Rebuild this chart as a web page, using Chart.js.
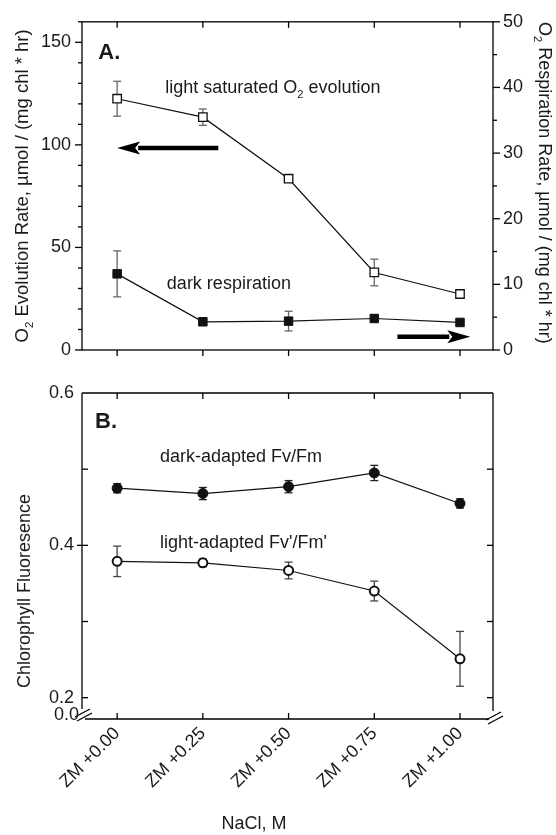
<!DOCTYPE html>
<html>
<head>
<meta charset="utf-8">
<script src="https://cdn.jsdelivr.net/npm/chart.js@4.4.1/dist/chart.umd.min.js"></script>
<style>
  body { margin: 0; background: #fff; }
  #wrap { position: relative; width: 556px; height: 835px; }
  canvas { position: absolute; left: 0; }
  #chartA { top: 0; }
  #chartB { top: 372px; }
</style>
</head>
<body>
<div id="wrap">
  <canvas id="chartA" width="556" height="372"></canvas>
  <canvas id="chartB" width="556" height="463"></canvas>
</div>
<script>
// --- data ---
const categories = ["ZM +0.00", "ZM +0.25", "ZM +0.50", "ZM +0.75", "ZM +1.00"];

// panel A: O2 evolution (left axis) and dark respiration (right axis)
const o2Evolution = [122.5, 113.5, 83.5, 37.8, 27.3];
const o2EvolutionErr = [8.5, 4.0, 1.0, 6.5, 1.2];
const darkResp = [11.6, 4.3, 4.4, 4.8, 4.2];
const darkRespErr = [3.5, 0, 1.5, 0, 0];
const evoTicks = [0, 50, 100, 150];
const respTicks = [0, 10, 20, 30, 40, 50];

// panel B: chlorophyll fluorescence
const fvFmDark = [0.475, 0.468, 0.477, 0.495, 0.455];
const fvFmDarkErr = [0.006, 0.008, 0.008, 0.010, 0.006];
const fvFmLight = [0.379, 0.377, 0.367, 0.340, 0.251];
const fvFmLightErr = [0.020, 0.005, 0.011, 0.013, 0.036];
const fluorTicks = [0.2, 0.4, 0.6];

const FONT = '"Liberation Sans", Arial, sans-serif';
const INK = "#1a1a1a";

const toPoints = vals => vals.map((v, i) => ({ x: i, y: v }));

// draw text with optional subscript parts
function drawRich(ctx, parts, x, y, size, align, weight) {
  const w8 = weight || "normal";
  const subSize = size * 0.62;
  let total = 0;
  parts.forEach(p => {
    ctx.font = `${w8} ${p.sub ? subSize : size}px ${FONT}`;
    total += ctx.measureText(p.t).width;
  });
  let cx = align === "center" ? x - total / 2 : align === "right" ? x - total : x;
  ctx.textAlign = "left";
  ctx.textBaseline = "middle";
  parts.forEach(p => {
    ctx.font = `${w8} ${p.sub ? subSize : size}px ${FONT}`;
    ctx.fillText(p.t, cx, p.sub ? y + size * 0.38 : y);
    cx += ctx.measureText(p.t).width;
  });
}

function line(ctx, x1, y1, x2, y2) {
  ctx.beginPath();
  ctx.moveTo(x1, y1);
  ctx.lineTo(x2, y2);
  ctx.stroke();
}

function arrow(ctx, x1, y1, x2, y2) {
  const dir = Math.sign(x2 - x1);
  const headLen = 23, headHalf = 6.5;
  ctx.lineWidth = 4.5;
  line(ctx, x1, y1, x2 - dir * (headLen - 2), y2);
  ctx.beginPath();
  ctx.moveTo(x2, y2);
  ctx.lineTo(x2 - dir * headLen, y2 - headHalf);
  ctx.lineTo(x2 - dir * (headLen - 5), y2);
  ctx.lineTo(x2 - dir * headLen, y2 + headHalf);
  ctx.closePath();
  ctx.fill();
}

// error bars behind the markers
const errorBars = {
  id: "errorBars",
  beforeDatasetsDraw(chart) {
    const ctx = chart.ctx;
    chart.data.datasets.forEach(ds => {
      if (!ds.errors) return;
      const xs = chart.scales.x;
      const ys = chart.scales[ds.yAxisID || "y"];
      ctx.save();
      ctx.strokeStyle = ds.errorColor;
      ctx.lineWidth = 1.3;
      ds.data.forEach((p, i) => {
        const e = ds.errors[i];
        if (!e) return;
        const x = xs.getPixelForValue(p.x);
        const yTop = ys.getPixelForValue(p.y + e);
        const yBot = ys.getPixelForValue(p.y - e);
        line(ctx, x, yTop, x, yBot);
        line(ctx, x - 4, yTop, x + 4, yTop);
        line(ctx, x - 4, yBot, x + 4, yBot);
      });
      ctx.restore();
    });
  }
};

const xScale = {
  type: "linear",
  min: -0.41,
  max: 4.385,
  afterBuildTicks: s => { s.ticks = categories.map((c, i) => ({ value: i })); }
};

// ---------------- Panel A ----------------
const panelA = {
  id: "panelA",
  afterDraw(chart) {
    const ctx = chart.ctx;
    const a = chart.chartArea;
    const xs = chart.scales.x, yl = chart.scales.y, yr = chart.scales.y2;
    ctx.save();
    ctx.strokeStyle = "#000";
    ctx.fillStyle = "#000";
    ctx.lineWidth = 1.3;
    ctx.strokeRect(a.left, a.top, a.right - a.left, a.bottom - a.top);

    // category ticks: top inward, bottom outward
    categories.forEach((c, i) => {
      const x = xs.getPixelForValue(i);
      line(ctx, x, a.top, x, a.top + 6);
      line(ctx, x, a.bottom, x, a.bottom + 6);
    });
    // left axis ticks (outward), minor every 10
    for (let v = 0; v <= 160; v += 10) {
      const y = yl.getPixelForValue(v);
      line(ctx, a.left, y, a.left - (v % 50 === 0 ? 7 : 4), y);
    }
    // right axis ticks (outward), minor every 5
    for (let v = 0; v <= 50; v += 5) {
      const y = yr.getPixelForValue(v);
      line(ctx, a.right, y, a.right + (v % 10 === 0 ? 7 : 4), y);
    }

    // arrows pointing to the axis each series uses
    arrow(ctx, xs.getPixelForValue(1.18), yl.getPixelForValue(98.5),
               xs.getPixelForValue(0), yl.getPixelForValue(98.5));
    arrow(ctx, xs.getPixelForValue(3.27), yr.getPixelForValue(2.0),
               xs.getPixelForValue(4.12), yr.getPixelForValue(2.0));

    // labels
    ctx.fillStyle = INK;
    drawRich(ctx, [{ t: "A." }], xs.getPixelForValue(-0.22), yl.getPixelForValue(145), 22, "left", "bold");
    drawRich(ctx, [{ t: "light saturated O" }, { t: "2", sub: true }, { t: " evolution" }],
      xs.getPixelForValue(0.56), yl.getPixelForValue(127.8), 18, "left");
    drawRich(ctx, [{ t: "dark respiration" }],
      xs.getPixelForValue(0.58), yl.getPixelForValue(32.3), 18, "left");

    // axis titles
    ctx.save();
    ctx.translate(23, (a.top + a.bottom) / 2);
    ctx.rotate(-Math.PI / 2);
    drawRich(ctx, [{ t: "O" }, { t: "2", sub: true }, { t: " Evolution Rate, \u00b5mol / (mg chl * hr)" }], 0, 0, 18.5, "center");
    ctx.restore();
    ctx.save();
    ctx.translate(544, (a.top + a.bottom) / 2 - 3);
    ctx.rotate(Math.PI / 2);
    drawRich(ctx, [{ t: "O" }, { t: "2", sub: true }, { t: " Respiration Rate, \u00b5mol / (mg chl * hr)" }], 0, 0, 18, "center");
    ctx.restore();
    ctx.restore();
  }
};

new Chart(document.getElementById("chartA"), {
  type: "line",
  data: {
    datasets: [
      {
        data: toPoints(o2Evolution),
        errors: o2EvolutionErr,
        errorColor: "#666",
        yAxisID: "y",
        borderColor: "#111",
        borderWidth: 1.2,
        pointStyle: "rect",
        pointRadius: 6,
        pointBackgroundColor: "#fff",
        pointBorderColor: "#111",
        pointBorderWidth: 1.3
      },
      {
        data: toPoints(darkResp),
        errors: darkRespErr,
        errorColor: "#666",
        yAxisID: "y2",
        borderColor: "#111",
        borderWidth: 1.2,
        pointStyle: "rect",
        pointRadius: 6,
        pointBackgroundColor: "#111",
        pointBorderColor: "#111",
        pointBorderWidth: 1
      }
    ]
  },
  options: {
    responsive: false,
    animation: false,
    layout: { padding: { top: 18, bottom: 22 } },
    plugins: { legend: { display: false }, tooltip: { enabled: false } },
    scales: {
      x: Object.assign({ display: false }, xScale),
      y: {
        position: "left",
        min: 0,
        max: 160,
        afterBuildTicks: s => { s.ticks = evoTicks.map(v => ({ value: v })); },
        afterFit: s => { s.width = 82; },
        grid: { display: false, drawTicks: false },
        border: { display: false },
        ticks: { color: INK, padding: 11, font: { family: FONT, size: 18 } }
      },
      y2: {
        position: "right",
        min: 0,
        max: 50,
        afterBuildTicks: s => { s.ticks = respTicks.map(v => ({ value: v })); },
        afterFit: s => { s.width = 63; },
        grid: { display: false, drawTicks: false },
        border: { display: false },
        ticks: { color: INK, padding: 10, font: { family: FONT, size: 18 } }
      }
    }
  },
  plugins: [errorBars, panelA]
});

// ---------------- Panel B ----------------
const panelB = {
  id: "panelB",
  afterDraw(chart) {
    const ctx = chart.ctx;
    const a = chart.chartArea;
    const xs = chart.scales.x, ys = chart.scales.y;
    ctx.save();
    ctx.strokeStyle = "#000";
    ctx.fillStyle = "#000";
    ctx.lineWidth = 1.3;
    // frame with broken bottom corners
    line(ctx, a.left, a.top, a.right, a.top);
    line(ctx, a.left, a.top, a.left, a.bottom - 10);
    line(ctx, a.right, a.top, a.right, a.bottom - 8);
    line(ctx, a.left + 3, a.bottom, a.right - 4, a.bottom);
    line(ctx, a.left - 7, a.bottom - 2, a.left + 8, a.bottom - 10);
    line(ctx, a.left - 5, a.bottom + 2, a.left + 10, a.bottom - 6);
    line(ctx, a.right - 7, a.bottom + 1, a.right + 8, a.bottom - 7);
    line(ctx, a.right - 5, a.bottom + 5, a.right + 10, a.bottom - 3);

    categories.forEach((c, i) => {
      const x = xs.getPixelForValue(i);
      line(ctx, x, a.top, x, a.top + 6);
      line(ctx, x, a.bottom, x, a.bottom - 6);
    });
    [0.2, 0.3, 0.4, 0.5].forEach(v => {
      const y = ys.getPixelForValue(v);
      line(ctx, a.left - (v === 0.4 ? 5 : 0), y, a.left + 6, y);
      line(ctx, a.right, y, a.right - 6, y);
    });

    ctx.fillStyle = INK;
    drawRich(ctx, [{ t: "0.0" }], a.left - 3, a.bottom - 4, 18, "right");
    drawRich(ctx, [{ t: "B." }], xs.getPixelForValue(-0.257), ys.getPixelForValue(0.562), 22, "left", "bold");
    drawRich(ctx, [{ t: "dark-adapted Fv/Fm" }], xs.getPixelForValue(0.5), ys.getPixelForValue(0.516), 18, "left");
    drawRich(ctx, [{ t: "light-adapted Fv'/Fm'" }], xs.getPixelForValue(0.5), ys.getPixelForValue(0.403), 18, "left");

    ctx.save();
    ctx.translate(25, 591 - 372);
    ctx.rotate(-Math.PI / 2);
    drawRich(ctx, [{ t: "Chlorophyll Fluoresence" }], 0, 0, 18, "center");
    ctx.restore();
    drawRich(ctx, [{ t: "NaCl, M" }], 254, 824 - 372, 18, "center");
    ctx.restore();
  }
};

new Chart(document.getElementById("chartB"), {
  type: "line",
  data: {
    datasets: [
      {
        data: toPoints(fvFmDark),
        errors: fvFmDarkErr,
        errorColor: "#222",
        borderColor: "#111",
        borderWidth: 1.2,
        pointRadius: 5,
        pointBackgroundColor: "#111",
        pointBorderColor: "#111",
        pointBorderWidth: 1
      },
      {
        data: toPoints(fvFmLight),
        errors: fvFmLightErr,
        errorColor: "#444",
        borderColor: "#111",
        borderWidth: 1.2,
        pointRadius: 4.5,
        pointBackgroundColor: "#fff",
        pointBorderColor: "#111",
        pointBorderWidth: 2
      }
    ]
  },
  options: {
    responsive: false,
    animation: false,
    layout: { padding: { top: 21, right: 63 } },
    plugins: { legend: { display: false }, tooltip: { enabled: false } },
    scales: {
      x: Object.assign({
        position: "bottom",
        afterFit: s => { s.height = 116; },
        grid: { display: false, drawTicks: false },
        border: { display: false },
        ticks: {
          color: INK,
          padding: 4,
          autoSkip: false,
          minRotation: 45,
          maxRotation: 45,
          font: { family: FONT, size: 18 },
          callback: v => categories[v]
        }
      }, xScale),
      y: {
        min: 0.172,
        max: 0.6,
        afterBuildTicks: s => { s.ticks = fluorTicks.map(v => ({ value: v })); },
        afterFit: s => { s.width = 82; },
        grid: { display: false, drawTicks: false },
        border: { display: false },
        ticks: {
          color: INK,
          padding: 8,
          font: { family: FONT, size: 18 },
          callback: v => v.toFixed(1)
        }
      }
    }
  },
  plugins: [errorBars, panelB]
});
</script>
</body>
</html>
